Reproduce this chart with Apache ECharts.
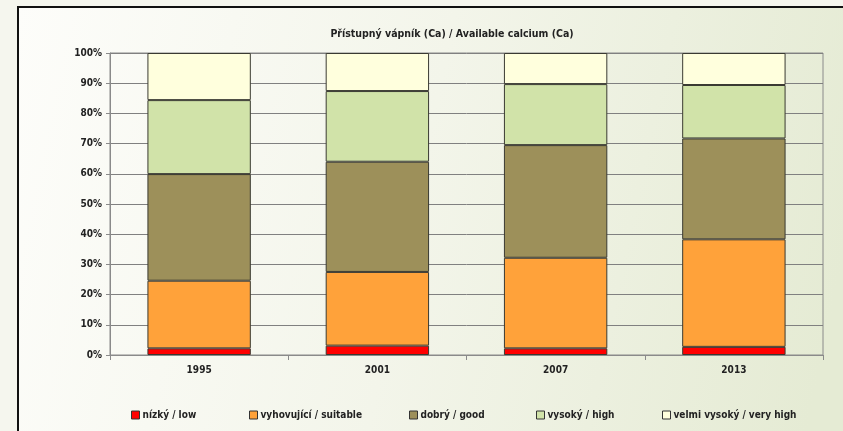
<!DOCTYPE html>
<html>
<head>
<meta charset="utf-8">
<script src="https://cdn.jsdelivr.net/npm/echarts@6/dist/echarts.min.js"></script>
<style>
  html, body { margin: 0; padding: 0; background: #f5f6ee; }
  #chart { width: 843px; height: 431px; }
</style>
</head>
<body>
<div id="chart"></div>
<script>
// Share of soil samples by available calcium class (percent)
const years = ['1995', '2001', '2007', '2013'];
const lowVals = [2.2, 3.1, 2.2, 2.7];
const suitableVals = [22.4, 24.4, 30.0, 35.6];
const goodVals = [35.3, 36.5, 37.3, 33.4];
const highVals = [24.5, 23.4, 20.2, 17.7];
const veryHighVals = [15.6, 12.6, 10.3, 10.6];
const yTicks = [0, 10, 20, 30, 40, 50, 60, 70, 80, 90, 100];

const seriesDefs = [
  { name: 'nízký / low', data: lowVals, color: '#ff0000', legendX: 126 },
  { name: 'vyhovující / suitable', data: suitableVals, color: '#ffa23a', legendX: 244 },
  { name: 'dobrý / good', data: goodVals, color: '#9d905a', legendX: 404 },
  { name: 'vysoký / high', data: highVals, color: '#d1e3a9', legendX: 531 },
  { name: 'velmi vysoký / very high', data: veryHighVals, color: '#ffffdd', legendX: 657 }
];

const FONT = '"Liberation Sans Narrow", "Arial Narrow", "DejaVu Sans Condensed", sans-serif';
const chart = echarts.init(document.getElementById('chart'));

chart.setOption({
  animation: false,
  backgroundColor: '#f5f6ee',
  textStyle: { fontFamily: FONT },
  graphic: [
    {
      type: 'rect',
      z: -10,
      silent: true,
      shape: { x: 18, y: 7, width: 840, height: 440 },
      style: {
        fill: new echarts.graphic.LinearGradient(0, 0, 1, 0.4, [
          { offset: 0, color: '#fdfdfa' },
          { offset: 0.5, color: '#f3f5ea' },
          { offset: 1, color: '#e5ebd4' }
        ]),
        stroke: '#111',
        lineWidth: 2
      }
    }
  ],
  title: {
    text: 'Přístupný vápník (Ca) / Available calcium (Ca)',
    left: 447,
    top: 24,
    textAlign: 'center',
    textStyle: { fontFamily: FONT, fontSize: 10.5, fontWeight: 'bold', color: '#222' }
  },
  legend: seriesDefs.map(s => ({
    data: [s.name],
    left: s.legendX,
    top: 405,
    itemWidth: 8,
    itemHeight: 8,
    itemGap: 4,
    icon: 'rect',
    selectedMode: false,
    textStyle: { fontFamily: FONT, fontSize: 10, fontWeight: 'bold', color: '#222', padding: [0, 0, 0, -2] },
    itemStyle: { borderColor: '#333', borderWidth: 1 }
  })),
  grid: {
    left: 110,
    right: 20,
    top: 53,
    bottom: 76,
    show: true,
    borderColor: '#8a8a8a',
    borderWidth: 1,
    backgroundColor: 'transparent'
  },
  xAxis: {
    type: 'category',
    data: years,
    boundaryGap: true,
    axisLine: { lineStyle: { color: '#8a8a8a', width: 1 } },
    axisTick: { show: true, length: 5, lineStyle: { color: '#8a8a8a' } },
    axisLabel: { fontFamily: FONT, fontSize: 10, fontWeight: 'bold', color: '#222', margin: 10 }
  },
  yAxis: {
    type: 'value',
    min: yTicks[0],
    max: yTicks[yTicks.length - 1],
    interval: 10,
    axisLine: { show: true, lineStyle: { color: '#8a8a8a' } },
    axisTick: { show: true, length: 4, lineStyle: { color: '#8a8a8a' } },
    axisLabel: {
      fontFamily: FONT, fontSize: 10, fontWeight: 'bold', color: '#222', margin: 8,
      formatter: v => v + '%'
    },
    splitLine: { show: true, lineStyle: { color: '#808080', width: 1 } }
  },
  series: seriesDefs.map(s => ({
    name: s.name,
    type: 'bar',
    stack: 'total',
    barWidth: '58%',
    data: s.data,
    itemStyle: { color: s.color, borderColor: '#3a3a32', borderWidth: 1 }
  }))
});
</script>
</body>
</html>
